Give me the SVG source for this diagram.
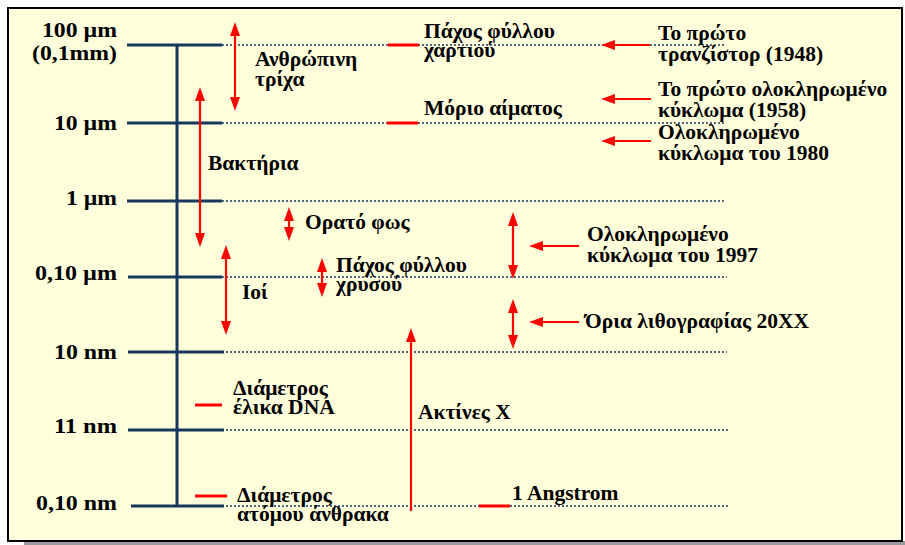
<svg xmlns="http://www.w3.org/2000/svg" width="905" height="545" viewBox="0 0 905 545">
<style>
text{font-family:"Liberation Serif","Times New Roman",serif;font-weight:bold;fill:#000;font-size:21.5px}
.sc{text-anchor:end;font-size:22px}
.axis{stroke:#17375E;stroke-width:3;fill:none}
.dot{stroke:#17375E;stroke-width:1.6;stroke-dasharray:2 2;fill:none}
.red{stroke:#FF0000;stroke-width:3;fill:none}
.arr{stroke:#FF0000;stroke-width:2.2;fill:none}
</style>
<defs>
<marker id="ah" markerUnits="userSpaceOnUse" markerWidth="14" markerHeight="10" refX="3" refY="5" orient="auto-start-reverse" viewBox="0 0 14 10">
<path d="M0,0 L14,5 L0,10 z" fill="#FF0000"/>
</marker>
</defs>
<rect x="24" y="541" width="881" height="4" fill="#9A9A9A"/>
<rect x="8" y="8" width="894" height="533" fill="#FFFFDB" stroke="#000" stroke-width="2"/>

<g id="scale">
<line class="axis" x1="177" y1="45" x2="177" y2="506"/>
<line class="axis" x1="127" y1="45" x2="222" y2="45"/>
<line class="axis" x1="127" y1="123" x2="222" y2="123"/>
<line class="axis" x1="127" y1="201" x2="222" y2="201"/>
<line class="axis" x1="128" y1="277" x2="222" y2="277"/>
<line class="axis" x1="128" y1="352" x2="224" y2="352"/>
<line class="axis" x1="128" y1="430" x2="224" y2="430"/>
<line class="axis" x1="131" y1="506" x2="224" y2="506"/>
<text class="sc" x="117" y="37" textLength="75" lengthAdjust="spacingAndGlyphs">100 µm</text>
<text class="sc" x="117" y="60" textLength="85" lengthAdjust="spacingAndGlyphs">(0,1mm)</text>
<text class="sc" x="117" y="130" textLength="63" lengthAdjust="spacingAndGlyphs">10 µm</text>
<text class="sc" x="117" y="205" textLength="51" lengthAdjust="spacingAndGlyphs">1 µm</text>
<text class="sc" x="117" y="280" textLength="82" lengthAdjust="spacingAndGlyphs">0,10 µm</text>
<text class="sc" x="117" y="359" textLength="63" lengthAdjust="spacingAndGlyphs">10 nm</text>
<text class="sc" x="117" y="433" textLength="63" lengthAdjust="spacingAndGlyphs">11 nm</text>
<text class="sc" x="117" y="510" textLength="81" lengthAdjust="spacingAndGlyphs">0,10 nm</text>
</g>

<g id="gridlines">
<line class="dot" x1="222" y1="45" x2="726" y2="45"/>
<line class="dot" x1="222" y1="123" x2="726" y2="123"/>
<line class="dot" x1="222" y1="201" x2="726" y2="201"/>
<line class="dot" x1="222" y1="277" x2="727" y2="277"/>
<line class="dot" x1="222" y1="352" x2="727" y2="352"/>
<line class="dot" x1="222" y1="430" x2="728" y2="430"/>
<line class="dot" x1="222" y1="506" x2="728" y2="506"/>
</g>

<g id="connectors">
<line class="arr" x1="235" y1="33" x2="235" y2="100" marker-start="url(#ah)" marker-end="url(#ah)"/>
<line class="arr" x1="200" y1="98" x2="200" y2="236" marker-start="url(#ah)" marker-end="url(#ah)"/>
<line class="arr" x1="289" y1="218" x2="289" y2="230" marker-start="url(#ah)" marker-end="url(#ah)"/>
<line class="arr" x1="226" y1="256" x2="226" y2="324" marker-start="url(#ah)" marker-end="url(#ah)"/>
<line class="arr" x1="322" y1="269" x2="322" y2="286" marker-start="url(#ah)" marker-end="url(#ah)"/>
<line class="arr" x1="411" y1="339" x2="411" y2="511" marker-start="url(#ah)"/>
<line class="arr" x1="513" y1="223" x2="513" y2="268" marker-start="url(#ah)" marker-end="url(#ah)"/>
<line class="arr" x1="513" y1="310" x2="513" y2="338" marker-start="url(#ah)" marker-end="url(#ah)"/>
<line class="arr" x1="612" y1="45" x2="650" y2="45" marker-start="url(#ah)"/>
<line class="arr" x1="612" y1="99" x2="651" y2="99" marker-start="url(#ah)"/>
<line class="arr" x1="612" y1="141" x2="651" y2="141" marker-start="url(#ah)"/>
<line class="arr" x1="540" y1="246" x2="579" y2="246" marker-start="url(#ah)"/>
<line class="arr" x1="540" y1="322" x2="579" y2="322" marker-start="url(#ah)"/>
<line class="red" x1="388" y1="45" x2="419" y2="45"/>
<line class="red" x1="387" y1="123" x2="418" y2="123"/>
<line class="red" x1="195" y1="405" x2="222" y2="405"/>
<line class="red" x1="195" y1="496" x2="227" y2="496"/>
<line class="red" x1="479" y1="506" x2="510" y2="506"/>
</g>

<g id="hair"><text x="255" y="66">Ανθρώπινη</text><text x="255" y="86">τρίχα</text></g>
<g id="bacteria"><text x="208" y="170">Βακτήρια</text></g>
<g id="light"><text x="305" y="229">Ορατό φως</text></g>
<g id="viruses"><text x="242" y="299">Ιοί</text></g>
<g id="gold"><text x="336" y="272">Πάχος φύλλου</text><text x="336" y="291">χρυσού</text></g>
<g id="xrays"><text x="418" y="419">Ακτίνες Χ</text></g>
<g id="dna"><text x="233" y="395">Διάμετρος</text><text x="233" y="414">έλικα DNA</text></g>
<g id="carbon"><text x="237" y="502">Διάμετρος</text><text x="237" y="521">ατόμου άνθρακα</text></g>
<g id="angstrom"><text x="512" y="500">1 Angstrom</text></g>
<g id="paper"><text x="424" y="38">Πάχος φύλλου</text><text x="424" y="57">χαρτιού</text></g>
<g id="blood"><text x="424" y="115">Μόριο αίματος</text></g>
<g id="t1948"><text x="658" y="40">Το πρώτο</text><text x="658" y="61">τρανζίστορ (1948)</text></g>
<g id="ic1958"><text x="658" y="96">Το πρώτο ολοκληρωμένο</text><text x="658" y="117">κύκλωμα (1958)</text></g>
<g id="ic1980"><text x="658" y="139">Ολοκληρωμένο</text><text x="658" y="160">κύκλωμα του 1980</text></g>
<g id="ic1997"><text x="587" y="241">Ολοκληρωμένο</text><text x="587" y="262">κύκλωμα του 1997</text></g>
<g id="litho"><text x="585" y="328">Όρια λιθογραφίας 20XX</text></g>
</svg>
